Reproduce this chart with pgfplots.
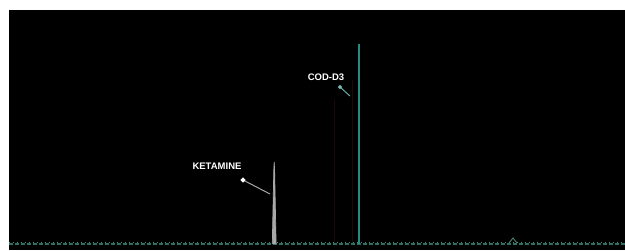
\documentclass[border=0pt]{standalone}
\usepackage{pgfplots}
\pgfplotsset{compat=1.18}
\usepackage{fontspec}
\setmainfont{Liberation Sans}
\definecolor{teal1}{HTML}{2A8A80}
\definecolor{base1}{HTML}{2F6E62}
\definecolor{base2}{HTML}{4F8F80}
\definecolor{peakg}{HTML}{A8A8A8}
\definecolor{dred}{HTML}{1E0808}
\begin{document}
\begin{tikzpicture}[x=1pt,y=1pt]
\useasboundingbox (-9,0) rectangle (616,250);
\fill[white] (-9,0) rectangle (616,250);
\begin{axis}[at={(0,0)},anchor=south west,
  scale only axis, width=616pt, height=240pt,
  xmin=9, xmax=625, ymin=0, ymax=240,
  axis background/.style={fill=black},
  axis line style={draw=none}, ticks=none,
  clip=true]
% faint red traces
\addplot[dred, line width=0.5pt] coordinates {(334,6) (334,150)};
\addplot[dred, line width=0.5pt] coordinates {(352,6) (352,170)};
% baseline noise
\addplot[base1, line width=1.6pt, dash pattern=on 4pt off 2pt] coordinates {(9,6) (625,6)};
\addplot[base2, line width=0.6pt, dash pattern=on 1pt off 3pt] coordinates {(9,8) (625,8)};
% ketamine peak
\addplot[peakg, line width=0.7pt, fill=peakg] coordinates {(272.3,6) (273.8,80) (274.2,88) (274.6,80) (276.1,6)};
% COD-D3 peak
\addplot[teal1, line width=2.2pt] coordinates {(359,6) (359,206)};
% small bump
\addplot[base2, line width=0.8pt] coordinates {(509,7) (513,12) (517,7)};
% leader lines
\addplot[peakg, line width=1pt, mark=*, mark size=1.8pt, mark options={fill=white,draw=white}, mark indices={1}] coordinates {(243,70) (270,56)};
\addplot[teal1!70!white, line width=1pt, mark=*, mark size=1.5pt, mark options={fill=teal1!60!white,draw=teal1!60!white}, mark indices={1}] coordinates {(340,163) (350,154)};
\node[white, font=\fontsize{9.5}{10}\selectfont\bfseries] at (axis cs:217,84) {KETAMINE};
\node[white, font=\fontsize{9.5}{10}\selectfont\bfseries] at (axis cs:326,173) {COD-D3};
\end{axis}
\end{tikzpicture}
\end{document}
